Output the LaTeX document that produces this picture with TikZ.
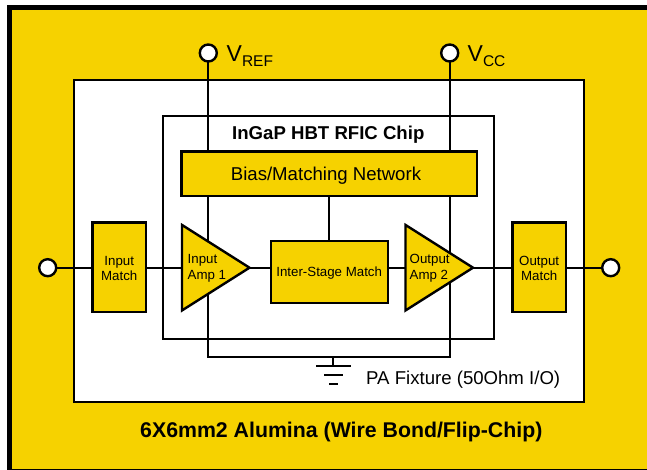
\documentclass[tikz,border=0pt]{standalone}
\usepackage{fontspec}
\setmainfont{Liberation Sans}
\usetikzlibrary{shapes.geometric}
\definecolor{gold}{HTML}{F6D200}
\newcommand{\nudgedown}[1]{\raisebox{-1.2pt}[\height][\depth]{#1}}
\pgfdeclarelayer{panel}
\pgfdeclarelayer{wire}
\pgfsetlayers{panel,wire,main}
\tikzset{
  wirestyle/.style={draw=black,line width=2.2pt},
  panelbox/.style={draw=black,fill=white,line width=2.2pt,inner sep=0pt,outer sep=0pt,rectangle},
  block/.style={draw=black,fill=gold,line width=2.4pt,inner sep=0pt,outer sep=0pt,rectangle,align=center,font=\fontsize{13.3}{15.5}\selectfont},
  amp/.style={draw=black,fill=gold,line width=2.4pt,isosceles triangle,isosceles triangle stretches,shape border rotate=0,
    inner sep=0pt,outer sep=0pt,minimum width=85.5pt,minimum height=67.5pt,anchor=lower side},
  port/.style={circle,draw=black,fill=white,line width=2.4pt,minimum size=17pt,inner sep=0pt,outer sep=0pt},
  amplabel/.style={anchor=west,inner sep=0pt,align=left,font=\fontsize{13.3}{15.5}\selectfont},
  tlabel/.style={inner sep=0pt,anchor=base west}
}
\begin{document}
\begin{tikzpicture}[x=1pt,y=-1pt]
\useasboundingbox (0,0) rectangle (647,470);
\begin{pgfonlayer}{panel}
  \fill[black] (7,5) rectangle (647,470);
  \fill[gold] (11.7,10) rectangle (647,468.5);
  \node[panelbox,minimum width=509.7pt,minimum height=321.7pt] (module) at (328.85,240.85) {};
  \node[panelbox,minimum width=331pt,minimum height=223pt] (chip) at (328.8,227.2) {};
\end{pgfonlayer}
% blocks
\node[block,minimum width=295.4pt,minimum height=44.6pt,font=\fontsize{18.6}{20}\selectfont] (bias) at (329,174) {\nudgedown{Bias/Matching Network}\hspace{6pt}};
\node[block,minimum width=53.7pt,minimum height=89.3pt] (inmatch) at (119.2,267.35) {\nudgedown{Input}\\[0pt]\nudgedown{Match}};
\node[block,minimum width=53.7pt,minimum height=89.3pt] (outmatch) at (539.2,267.35) {\nudgedown{Output}\\[0pt]\nudgedown{Match}};
\node[block,minimum width=117pt,minimum height=62pt] (inter) at (329.2,272) {\nudgedown{Inter-Stage Match}};
\node[amp] (amp1) at (182,267.7) {};
\node[amp] (amp2) at (405.5,267.7) {};
\node[amplabel] (amp1text) at (187.5,268.3) {Input\\[0pt]Amp 1};
\node[amplabel] (amp2text) at (409.5,268.3) {Output\\[0pt]Amp 2};
% ports
\node[port] (inport) at (47.7,267.7) {};
\node[port] (outport) at (610.7,267.7) {};
\node[port] (vref) at (208.3,53) {};
\node[port] (vcc) at (449.7,53) {};
% labels
\node[tlabel,font=\fontsize{23}{25}\selectfont] (vreflabel) at (226.5,61.7) {V\raisebox{-4.5pt}{\fontsize{15.5}{17}\selectfont REF}};
\node[tlabel,font=\fontsize{23}{25}\selectfont] (vcclabel) at (467.5,61.7) {V\raisebox{-4.5pt}{\fontsize{15.5}{17}\selectfont CC}};
\node[tlabel,font=\bfseries\fontsize{18.6}{20}\selectfont] (chiplabel) at (232,139.5) {InGaP HBT RFIC Chip};
\node[tlabel,font=\fontsize{18.6}{20}\selectfont] (fixlabel) at (366,384.5) {PA Fixture (50Ohm I/O)};
\node[tlabel,font=\bfseries\fontsize{21.3}{23}\selectfont] (alumina) at (140,437) {6X6mm2 Alumina (Wire Bond/Flip-Chip)};
% wiring
\coordinate (railL) at (208.3,356.7);
\coordinate (railR) at (449.7,356.7);
\coordinate (gndtop) at (333.3,356.7);
\coordinate (gnd) at (333.3,366);
\begin{pgfonlayer}{wire}
  \draw[wirestyle] (vref) -- (railL) -- (railR) -- (vcc);
  \draw[wirestyle] (inport) -- (inmatch.west |- inport);
  \draw[wirestyle] (inmatch.east |- amp1.lower side) -- (amp1.lower side);
  \draw[wirestyle] (amp1.apex) -- (inter.west |- amp1.apex);
  \draw[wirestyle] (inter.east |- amp2.lower side) -- (amp2.lower side);
  \draw[wirestyle] (amp2.apex) -- (outmatch.west |- amp2.apex);
  \draw[wirestyle] (outmatch.east |- outport) -- (outport);
  \draw[wirestyle] (bias.south -| inter.north) -- (inter.north);
  \draw[wirestyle] (gndtop) -- (gnd);
\end{pgfonlayer}
% ground symbol
\draw[wirestyle] (316,366) -- (351,366);
\draw[wirestyle] (324.3,375) -- (343,375);
\draw[wirestyle] (329,383.7) -- (338,383.7);
\end{tikzpicture}
\end{document}
